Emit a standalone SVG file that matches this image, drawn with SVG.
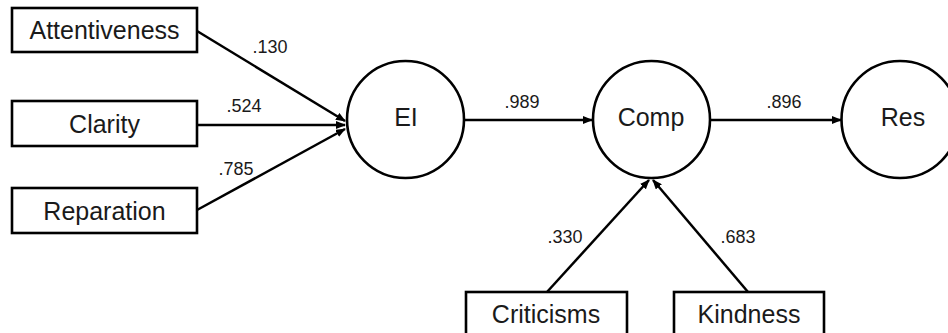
<svg xmlns="http://www.w3.org/2000/svg" width="948" height="333" viewBox="0 0 948 333">
  <defs>
    <style>
      .box { fill: #ffffff; stroke: #000000; stroke-width: 2.6; }
      .lat { fill: #ffffff; stroke: #000000; stroke-width: 2.6; }
      .edge { stroke: #000000; stroke-width: 2.5; fill: none; marker-end: url(#arrow); }
      .lbl { font-family: "Liberation Sans", Arial, sans-serif; font-size: 25px; fill: #1a1a1a; text-anchor: middle; }
      .num { font-family: "Liberation Sans", Arial, sans-serif; font-size: 18px; fill: #1a1a1a; text-anchor: middle; }
    </style>
    <marker id="arrow" markerUnits="userSpaceOnUse" markerWidth="10" markerHeight="8" refX="9" refY="4" orient="auto">
      <path d="M0,0 L10,4 L0,8 Z" fill="#000000"/>
    </marker>
  </defs>
  <rect width="948" height="333" fill="#ffffff"/>

  <g id="connectors">
    <line class="edge" x1="197" y1="31" x2="345" y2="121"/>
    <line class="edge" x1="197" y1="125" x2="345" y2="125"/>
    <line class="edge" x1="197" y1="210" x2="345" y2="129"/>
    <line class="edge" x1="464" y1="120" x2="592" y2="120"/>
    <line class="edge" x1="711" y1="120" x2="841" y2="120"/>
    <line class="edge" x1="547" y1="292" x2="649" y2="180"/>
    <line class="edge" x1="748" y1="292" x2="653" y2="180"/>
    <text class="num" x="270" y="53">.130</text>
    <text class="num" x="244" y="112">.524</text>
    <text class="num" x="236" y="175">.785</text>
    <text class="num" x="522" y="108">.989</text>
    <text class="num" x="784" y="108">.896</text>
    <text class="num" x="565" y="243">.330</text>
    <text class="num" x="738" y="243">.683</text>
  </g>

  <g id="attentiveness">
    <rect class="box" x="12" y="8" width="185" height="44"/>
    <text class="lbl" x="104.5" y="39">Attentiveness</text>
  </g>
  <g id="clarity">
    <rect class="box" x="12" y="101" width="185" height="45"/>
    <text class="lbl" x="104.5" y="133">Clarity</text>
  </g>
  <g id="reparation">
    <rect class="box" x="12" y="188" width="185" height="45"/>
    <text class="lbl" x="104.5" y="220">Reparation</text>
  </g>
  <g id="ei">
    <circle class="lat" cx="405.5" cy="119.5" r="58.5"/>
    <text class="lbl" x="406" y="126">EI</text>
  </g>
  <g id="comp">
    <circle class="lat" cx="651.5" cy="119.5" r="58.5"/>
    <text class="lbl" x="651" y="126">Comp</text>
  </g>
  <g id="res">
    <circle class="lat" cx="900" cy="119.5" r="58.5"/>
    <text class="lbl" x="903" y="126">Res</text>
  </g>
  <g id="criticisms">
    <rect class="box" x="466" y="292" width="161" height="50"/>
    <text class="lbl" x="546" y="323">Criticisms</text>
  </g>
  <g id="kindness">
    <rect class="box" x="674" y="292" width="150" height="50"/>
    <text class="lbl" x="749" y="323">Kindness</text>
  </g>
</svg>
